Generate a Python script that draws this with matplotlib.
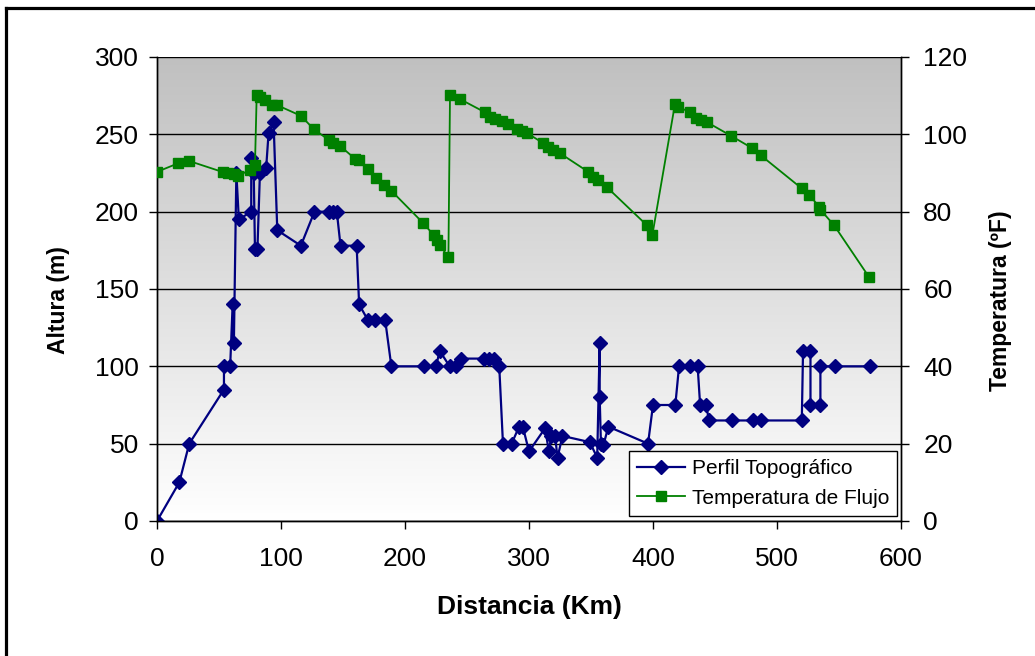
import numpy as np
import matplotlib
matplotlib.use("Agg")
import matplotlib.pyplot as plt
from matplotlib.colors import LinearSegmentedColormap
from matplotlib.lines import Line2D

plt.rcParams['font.family'] = ['Liberation Sans', 'DejaVu Sans']

# Perfil topografico: distancia (km) / altura (m)
topo_x = [0, 18, 26, 54, 54, 59, 61, 62, 64, 66, 76, 76, 78, 79, 81, 83, 88, 90, 94, 97,
          116, 127, 139, 142, 145, 148, 161, 163, 170, 176, 184, 189, 215, 225, 228, 236,
          241, 245, 264, 268, 272, 276, 279, 286, 292, 295, 300, 313, 316, 318, 321, 323,
          327, 349, 355, 357, 357, 358, 360, 364, 396, 400, 418, 421, 430, 436, 438, 443,
          445, 464, 481, 487, 520, 521, 527, 527, 535, 535, 547, 575]
topo_y = [0, 25, 50, 85, 100, 100, 140, 115, 225, 195, 200, 235, 225, 176, 176, 225, 228, 251, 258, 188,
          178, 200, 200, 200, 200, 178, 178, 140, 130, 130, 130, 100, 100, 100, 110, 100,
          100, 105, 105, 105, 105, 100, 50, 50, 61, 61, 45, 60, 45, 55, 55, 41,
          55, 51, 41, 115, 80, 50, 49, 61, 50, 75, 75, 100, 100, 100, 75, 75,
          65, 65, 65, 65, 65, 110, 110, 75, 75, 100, 100, 100]

# Temperatura de flujo: distancia (km) / temperatura (F)
temp_x = [0, 17, 26, 53.5, 57.5, 62, 65.5, 75, 79, 80.4, 83, 87, 92.5, 96.5, 116, 126.6,
          138.7, 142, 147.6, 160, 163, 170, 177, 183, 189, 214.5, 223, 225.6, 228, 235,
          236.3, 244.4, 264.5, 268.5, 272.6, 278, 283, 290, 294, 298, 311.6, 315.6, 319.6,
          325, 347.8, 352, 356, 362.6, 395, 399.5, 417.7, 420.4, 430, 435, 439, 443.8, 463,
          479.6, 486.8, 520, 526, 534, 535, 546, 574.4]
temp_y = [90.3, 92.5, 93.1, 90.2, 89.9, 89.7, 89.3, 90.8, 92, 110.2, 109.7, 108.9, 107.6, 107.6, 104.8, 101.3,
          98.5, 97.7, 97, 93.6, 93.3, 91, 88.6, 86.9, 85.4, 77.1, 74, 72.7, 71.4, 68.2,
          110.2, 109.1, 105.7, 104.6, 103.9, 103.5, 102.8, 101.5, 100.9, 100.4, 97.7, 96.6, 95.9,
          95.1, 90.3, 89, 88.2, 86.4, 76.5, 74, 107.8, 107.1, 105.7, 104.1, 103.7, 103.1, 99.6,
          96.5, 94.6, 86, 84.3, 81.3, 80.5, 76.5, 63]

W, H = 1035, 656
fig = plt.figure(figsize=(W / 100, H / 100), dpi=100)
fig.patch.set_facecolor('white')

# outer chart border (top and left visible)
fig.add_artist(Line2D([6 / W, 6 / W], [0, 1 - 8 / H], color='black', lw=2.3, transform=fig.transFigure))
fig.add_artist(Line2D([6 / W, 1], [1 - 8 / H, 1 - 8 / H], color='black', lw=2.3, transform=fig.transFigure))

ax = fig.add_axes([157 / W, 1 - 521 / H, 744 / W, 464 / H])

# plot area gradient: grey at top, white at bottom
cmap = LinearSegmentedColormap.from_list('bg', ['#ffffff', '#c0c0c0'])
grad = np.linspace(0, 1, 256).reshape(-1, 1)
ax.imshow(grad, cmap=cmap, origin='lower', extent=[0, 1, 0, 1], transform=ax.transAxes,
          aspect='auto', zorder=0)

ax.plot(topo_x, topo_y, color='#000080', lw=1.6, marker='D', ms=7.5, zorder=3,
        label='Perfil Topográfico')
ax.set_xlim(0, 600)
ax.set_ylim(0, 300)
ax.set_xticks(range(0, 601, 100))
ax.set_yticks(range(0, 301, 50))
ax.grid(axis='y', color='black', lw=1)
ax.set_axisbelow(True)
for g in ax.get_ygridlines():
    g.set_zorder(1)

ax2 = ax.twinx()
ax2.plot(temp_x, temp_y, color='#008000', lw=1.3, marker='s', ms=7, zorder=3,
         label='Temperatura de Flujo')
ax2.set_ylim(0, 120)
ax2.set_yticks(range(0, 121, 20))

for a in (ax, ax2):
    a.spines['top'].set_visible(False)
    for s in ('left', 'right', 'bottom'):
        a.spines[s].set_color('black')
        a.spines[s].set_linewidth(1)

ax.tick_params(axis='y', direction='out', length=6, width=1, pad=7, labelsize=19)
ax.tick_params(axis='x', direction='out', length=6, width=1, pad=13, labelsize=19)
ax2.tick_params(axis='y', direction='out', length=6, width=1, pad=10, labelsize=19)

ax.set_xlabel('Distancia (Km)', fontsize=19, fontweight='bold', va='center')
ax.xaxis.set_label_coords(0.5, (521 - 607) / 464)
ax.set_ylabel('Altura (m)', fontsize=16.5, fontweight='bold', va='center')
ax.yaxis.set_label_coords((58 - 157) / 744, (521 - 300) / 464)
ax2.set_ylabel('Temperatura (ºF)', fontsize=16.5, fontweight='bold', va='center')
ax2.yaxis.set_label_coords((1000 - 157) / 744, (521 - 301) / 464)

h1, l1 = ax.get_legend_handles_labels()
h2, l2 = ax2.get_legend_handles_labels()
leg = ax2.legend(h1 + h2, l1 + l2, loc='lower right', bbox_to_anchor=(0.995, 0.011),
                 borderaxespad=0, fancybox=False, edgecolor='black', fontsize=15,
                 handlelength=2.3, handletextpad=0.3, framealpha=1)
leg.get_frame().set_linewidth(1)

fig.savefig('out.png', dpi=100)
